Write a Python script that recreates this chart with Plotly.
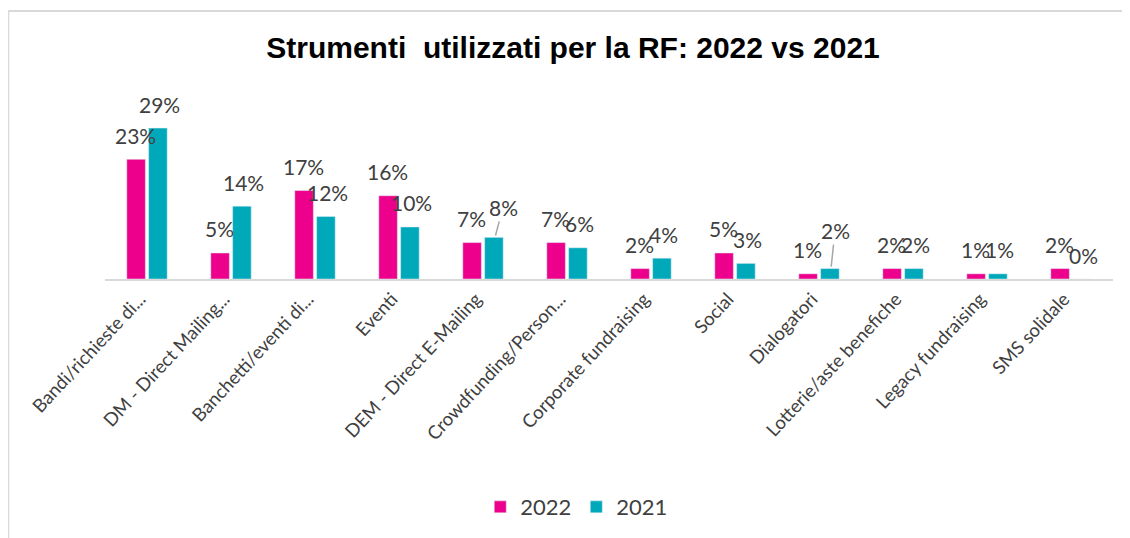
import plotly.graph_objects as go

categories = ["Bandi/richieste di...", "DM - Direct Mailing...", "Banchetti/eventi di...",
              "Eventi", "DEM - Direct E-Mailing", "Crowdfunding/Person...",
              "Corporate fundraising", "Social", "Dialogatori",
              "Lotterie/aste benefiche", "Legacy fundraising", "SMS solidale"]
values_2022 = [23, 5, 17, 16, 7, 7, 2, 5, 1, 2, 1, 2]
values_2021 = [29, 14, 12, 10, 8, 6, 4, 3, 2, 2, 1, 0]

pink = "#EC008C"
teal = "#00A9BA"
font_name = "Lato, Calibri, sans-serif"
label_font = dict(family=font_name, size=21, color="#404040")

# labels moved away from the bar by hand in the original, with a leader line
leaders = {("2021", 4): (8, -30), ("2021", 8): (4, -38)}

fig = go.Figure()
fig.add_trace(go.Bar(x=categories, y=values_2022, name="2022", marker_color=pink))
fig.add_trace(go.Bar(x=categories, y=values_2021, name="2021", marker_color=teal))

for name, vals, shift in [("2022", values_2022, -12), ("2021", values_2021, 12)]:
    for i, (cat, v) in enumerate(zip(categories, vals)):
        if (name, i) in leaders:
            ax, ay = leaders[(name, i)]
            fig.add_annotation(x=cat, y=v, xshift=shift, text=f"{v}%", showarrow=True,
                               arrowhead=0, arrowwidth=1.5, arrowcolor="#A6A6A6",
                               ax=ax, ay=ay, standoff=2, font=label_font)
        else:
            fig.add_annotation(x=cat, y=v, xshift=shift, yshift=24, text=f"{v}%",
                               showarrow=False, yanchor="middle", font=label_font)

fig.update_layout(
    width=1130, height=538,
    margin=dict(l=97, r=25, t=92, b=267),
    paper_bgcolor="white", plot_bgcolor="white",
    barmode="group", bargap=0.48, bargroupgap=0.15,
    title=dict(text="<b>Strumenti  utilizzati per la RF: 2022 vs 2021</b>",
               x=0.5, xanchor="center", y=0.926, yanchor="middle",
               font=dict(family="Arial, Liberation Sans, sans-serif", size=30, color="black")),
    legend=dict(orientation="h", x=0.468, xanchor="center", y=-1.274, yanchor="middle",
                font=dict(family=font_name, size=22, color="#404040"),
                itemwidth=30),
    showlegend=True,
)
fig.update_xaxes(tickangle=-47, showline=True, linecolor="#D9D9D9", linewidth=2,
                 ticks="", ticklabelshift=-7,
                 tickfont=dict(family=font_name, size=18.5, color="#404040"))
fig.update_yaxes(range=[0, 34.4], visible=False, showgrid=False)

# light gray frame around the chart area, as in the original
fig.add_shape(type="line", xref="paper", yref="paper", x0=-0.096, x1=1.1, y0=1.497, y1=1.497,
              line=dict(color="#D9D9D9", width=2))
fig.add_shape(type="line", xref="paper", yref="paper", x0=-0.096, x1=-0.096, y0=1.497, y1=-1.6,
              line=dict(color="#D9D9D9", width=2))

fig.write_html("out.html")
